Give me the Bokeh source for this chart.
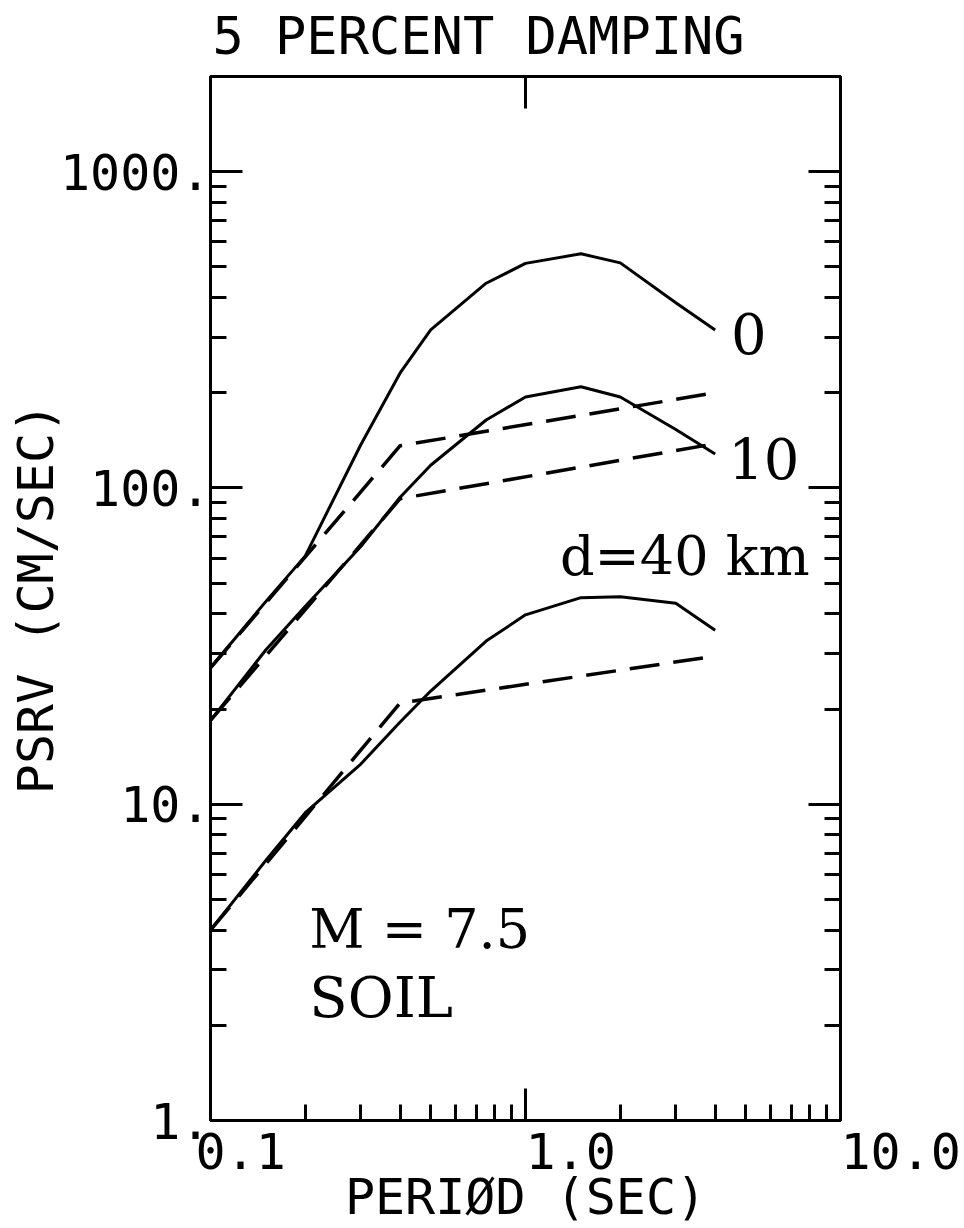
import math
from bokeh.plotting import figure
from bokeh.models import LogAxis, FixedTicker, Label, CustomJSTickFormatter
from bokeh.embed import file_html
from bokeh.resources import INLINE

# ---------------- data ----------------
PERIOD = [0.1, 0.15, 0.2, 0.3, 0.4, 0.5, 0.75, 1.0, 1.5, 2.0, 3.0, 4.0]
PSRV_D0 = [27.0, 43.8, 61.0, 137.0, 231.0, 316.0, 444.0, 513.0, 550.0, 515.0, 385.0, 316.0]
PSRV_D10 = [18.4, 30.8, 42.3, 65.3, 93.5, 118.0, 164.0, 194.0, 209.0, 194.0, 153.0, 128.0]
PSRV_D40 = [4.0, 6.65, 9.4, 13.4, 18.2, 22.8, 32.8, 39.7, 45.0, 45.3, 43.2, 35.5]

PERIOD_DASH = [0.1, 0.4, 4.0]
PSRV_D0_DASH = [27.0, 136.0, 200.0]
PSRV_D10_DASH = [18.4, 92.5, 138.0]
PSRV_D40_DASH = [4.0, 20.9, 29.4]

X_TICKS = [0.1, 1.0, 10.0]
X_TICK_LABELS = ["0.1", "1.0", "10.0"]
X_MINOR = [0.2, 0.3, 0.4, 0.5, 0.6, 0.7, 0.8, 0.9, 2, 3, 4, 5, 6, 7, 8, 9]
Y_TICKS = [1, 10, 100, 1000]
Y_TICK_LABELS = ["1.", "10.", "100.", "1000."]
Y_MINOR = [2, 3, 4, 5, 6, 7, 8, 9, 20, 30, 40, 50, 60, 70, 80, 90,
           200, 300, 400, 500, 600, 700, 800, 900, 2000]
TOP_TICKS = [1.0]

TITLE = "5 PERCENT DAMPING"
X_TITLE = "PERIØD (SEC)"
Y_TITLE = "PSRV (CM/SEC)"

X_RANGE = (0.1, 10.0)
Y_RANGE = (1.0, 2000.0)

# ---------------- styling ----------------
MONO = "DejaVu Sans Mono"
SERIF = "DejaVu Serif"
LW = 3
NBSP = "\u00a0"

p = figure(frame_width=630, frame_height=1044, x_axis_type="log", y_axis_type="log",
           x_range=X_RANGE, y_range=Y_RANGE, title=None,
           output_backend="svg", toolbar_location=None,
           min_border_left=210, min_border_right=122,
           min_border_top=76, min_border_bottom=100)
p.grid.visible = False
p.outline_line_color = "black"
p.outline_line_width = LW
p.background_fill_color = "white"
p.border_fill_color = "white"

blank = CustomJSTickFormatter(code="return ''")


def style_axis(ax):
    ax.axis_line_width = LW
    ax.axis_line_color = "black"
    ax.major_tick_in = 32
    ax.major_tick_out = 0
    ax.minor_tick_in = 16
    ax.minor_tick_out = 0
    ax.major_tick_line_width = LW
    ax.minor_tick_line_width = LW
    ax.major_tick_line_color = "black"
    ax.minor_tick_line_color = "black"


def style_label(ax, size="50px"):
    ax.axis_label_text_font = MONO
    ax.axis_label_text_font_size = size
    ax.axis_label_text_font_style = "normal"
    ax.axis_label_text_color = "black"


# bottom axis: labels start at their tick (left-aligned look), padded with no-break spaces
xax = p.xaxis[0]
xax.ticker = FixedTicker(ticks=X_TICKS, minor_ticks=X_MINOR)
pads = [2, 3, 4]
xax.major_label_overrides = {t: NBSP * k + s for t, s, k in zip(X_TICKS, X_TICK_LABELS, pads)}
xax.major_label_text_font = MONO
xax.major_label_text_font_size = "50px"
xax.major_label_text_color = "black"
xax.major_label_standoff = 2
xax.axis_label = X_TITLE
xax.axis_label_standoff = -16
style_label(xax)
style_axis(xax)

# left axis
yax = p.yaxis[0]
yax.ticker = FixedTicker(ticks=Y_TICKS, minor_ticks=Y_MINOR)
yax.major_label_overrides = {t: s for t, s in zip(Y_TICKS, Y_TICK_LABELS)}
yax.major_label_text_font = MONO
yax.major_label_text_font_size = "50px"
yax.major_label_text_color = "black"
yax.major_label_standoff = 0
yax.axis_label = Y_TITLE
yax.axis_label_standoff = -8
style_label(yax)
style_axis(yax)

# top axis: single tick at 1.0; the chart title sits above it, shifted left as in the original
tax = LogAxis(ticker=FixedTicker(ticks=TOP_TICKS, minor_ticks=[]), formatter=blank,
              major_label_text_font_size="1px", major_label_standoff=0)
tax.axis_label = TITLE + NBSP * 3
tax.axis_label_standoff = 11
style_label(tax, "52px")
style_axis(tax)
p.add_layout(tax, "above")

# right axis: mirrored ticks
rax = LogAxis(ticker=FixedTicker(ticks=Y_TICKS, minor_ticks=Y_MINOR), formatter=blank,
              major_label_text_font_size="1px", major_label_standoff=0)
style_axis(rax)
p.add_layout(rax, "right")

# ---------------- curves ----------------
for vals in (PSRV_D0, PSRV_D10, PSRV_D40):
    p.line(PERIOD, vals, line_color="black", line_width=LW, line_join="round")
for vals in (PSRV_D0_DASH, PSRV_D10_DASH, PSRV_D40_DASH):
    p.line(PERIOD_DASH, vals, line_color="black", line_width=LW + 0.5,
           line_dash="30 14", line_join="round")

# ---------------- curve annotations (serif, inside the frame) ----------------
ANNOT = [("0", 4.49, 260.0, "56px"), ("10", 4.40, 104.5, "56px"), ("d=40 km", 1.287, 51.2, "54px"),
         ("M = 7.5", 0.206, 3.40, "54px"), ("SOIL", 0.206, 2.07, "56px")]
for s, ax_, ay_, fs in ANNOT:
    p.add_layout(Label(x=ax_, y=ay_, text=s, text_align="left", text_baseline="alphabetic",
                       y_offset=23, text_font=SERIF, text_font_size=fs, text_color="black"))

open("out.html", "w").write(file_html(p, INLINE))
